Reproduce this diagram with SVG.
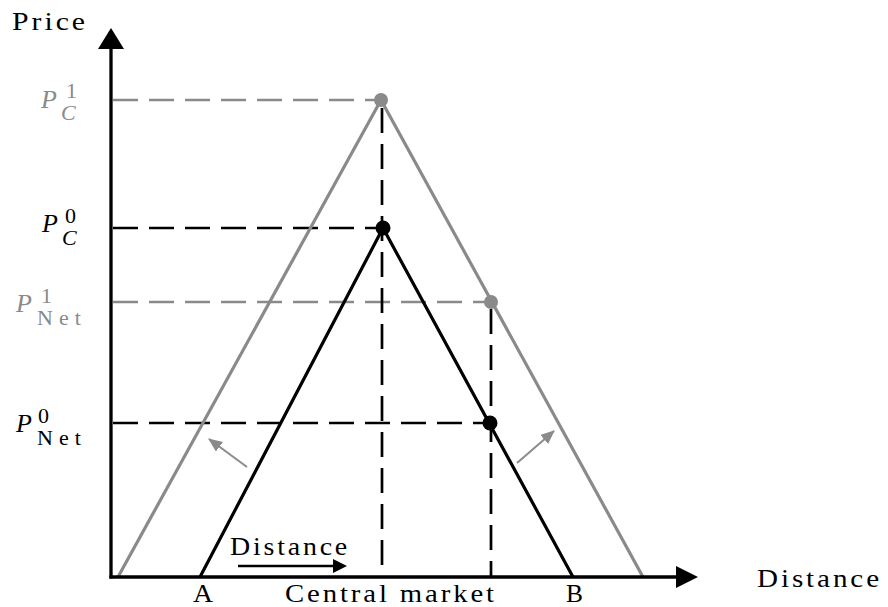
<svg xmlns="http://www.w3.org/2000/svg" width="888" height="607" viewBox="0 0 888 607">
<style>
  text { font-family: "Liberation Serif", "Times New Roman", serif; fill: #000; }
  .g { fill: #8a8a8a; }
  .lbl { font-size: 25px; }
  .sp { letter-spacing: 2.5px; }
  .pl { font-size: 26px; }
  .P { font-style: italic; }
  .it { font-style: italic; }
  .sub { font-size: 22px; }
  .net { font-size: 22px; letter-spacing: 6px; }
  .axis { stroke: #000; stroke-width: 3.3; fill: none; }
  .tri-b { stroke: #000; stroke-width: 3.2; fill: none; stroke-linejoin: round; }
  .tri-g { stroke: #8a8a8a; stroke-width: 3.2; fill: none; stroke-linejoin: round; }
  .dash-b { stroke: #000; stroke-width: 2.7; stroke-dasharray: 25 11; fill: none; }
  .dash-g { stroke: #8a8a8a; stroke-width: 2.7; stroke-dasharray: 25 11; fill: none; }
  .garrow { stroke: #8a8a8a; stroke-width: 2; fill: none; }
</style>
<defs>
  <marker id="gah" viewBox="0 0 14 12" refX="13" refY="6" markerWidth="14" markerHeight="12" markerUnits="userSpaceOnUse" orient="auto">
    <path d="M0,0 L14,6 L0,12 z" fill="#8a8a8a"/>
  </marker>
</defs>
<rect width="888" height="607" fill="#fff"/>

<g id="connectors">
  <line class="dash-g" x1="113" y1="100" x2="381" y2="100"/>
  <line class="dash-b" x1="113" y1="228" x2="383" y2="228"/>
  <line class="dash-g" x1="113" y1="302" x2="491" y2="302"/>
  <line class="dash-b" x1="113" y1="423" x2="490" y2="423"/>
  <line class="dash-b" x1="382" y1="108" x2="382" y2="577"/>
  <line class="dash-b" x1="491" y1="309" x2="491" y2="577"/>
  <polyline class="tri-g" points="118,577 381,100 643,577"/>
  <polyline class="tri-b" points="200,577 383,228 573,577"/>
  <line class="garrow" x1="247" y1="467" x2="209" y2="439" marker-end="url(#gah)"/>
  <line class="garrow" x1="517" y1="463" x2="554" y2="431" marker-end="url(#gah)"/>
  <line stroke="#000" stroke-width="2.5" x1="238" y1="566" x2="336" y2="566"/>
  <polygon points="333,559 347,566 333,573" fill="#000"/>
</g>

<g id="axes">
  <line class="axis" x1="111" y1="578.6" x2="111" y2="47"/>
  <polygon points="98,49 111,28 124,49" fill="#000"/>
  <line class="axis" x1="109.4" y1="577" x2="678" y2="577"/>
  <polygon points="676,566 698,577 676,588" fill="#000"/>
</g>

<g id="points">
  <circle cx="381" cy="100" r="7" fill="#8a8a8a"/>
  <circle cx="383" cy="228" r="7.5" fill="#000"/>
  <circle cx="491" cy="302" r="7" fill="#8a8a8a"/>
  <circle cx="490" cy="423" r="7.5" fill="#000"/>
</g>

<g id="axis-labels">
  <text class="lbl sp" x="12" y="30" textLength="76" lengthAdjust="spacingAndGlyphs">Price</text>
  <text class="lbl sp" x="757" y="587" textLength="125" lengthAdjust="spacingAndGlyphs">Distance</text>
  <text class="lbl sp" x="230" y="555" textLength="120" lengthAdjust="spacingAndGlyphs">Distance</text>
  <text class="lbl" x="193" y="602" textLength="20" lengthAdjust="spacingAndGlyphs">A</text>
  <text class="lbl sp" x="285" y="602" textLength="212" lengthAdjust="spacingAndGlyphs">Central market</text>
  <text class="lbl" x="566" y="602" textLength="17" lengthAdjust="spacingAndGlyphs">B</text>
</g>

<g id="label-PC1">
  <text class="pl g" x="41" y="108"><tspan class="P">P</tspan><tspan class="sub" x="66" y="98">1</tspan><tspan class="sub it" x="61" y="120">C</tspan></text>
</g>
<g id="label-PC0">
  <text class="pl" x="42" y="232"><tspan class="P">P</tspan><tspan class="sub" x="65" y="223">0</tspan><tspan class="sub it" x="62" y="245">C</tspan></text>
</g>
<g id="label-PNet1">
  <text class="pl g" x="16" y="312"><tspan class="P">P</tspan><tspan class="sub" x="41" y="303">1</tspan><tspan class="net" x="37" y="325">Net</tspan></text>
</g>
<g id="label-PNet0">
  <text class="pl" x="16" y="432"><tspan class="P">P</tspan><tspan class="sub" x="38" y="423">0</tspan><tspan class="net" x="37" y="445">Net</tspan></text>
</g>
</svg>
